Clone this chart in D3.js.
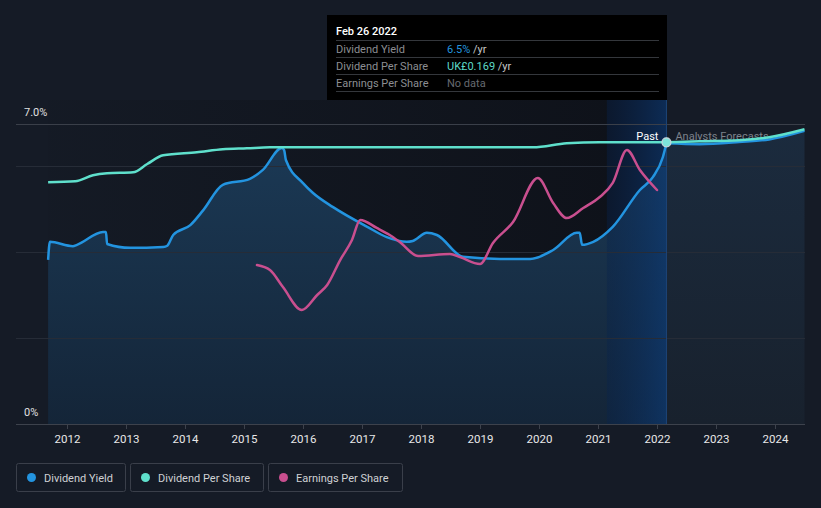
<!DOCTYPE html>
<html>
<head>
<meta charset="utf-8">
<script src="https://cdn.jsdelivr.net/npm/d3@7"></script>
<style>
  html, body { margin: 0; padding: 0; background: #151b26; }
  svg { display: block; font-family: Roboto, "Noto Sans", sans-serif; }
</style>
</head>
<body>
<svg id="chart" width="821" height="508"></svg>
<script>
// ---------- DATA ----------
const yearTicks = [2012, 2013, 2014, 2015, 2016, 2017, 2018, 2019, 2020, 2021, 2022, 2023, 2024];
const yTickLabels = [{v: 7, label: "7.0%"}, {v: 0, label: "0%"}];
const gridValues = [2, 4, 6, 7];

// Dividend Yield (% per year), [decimal year, value]
const dividendYield = [
  [2011.68, 3.83], [2011.71, 4.25], [2012.10, 4.15], [2012.17, 4.18], [2012.61, 4.48],
  [2012.66, 4.48], [2012.68, 4.20], [2013.07, 4.11], [2013.63, 4.13], [2013.70, 4.16],
  [2013.80, 4.41], [2014.09, 4.64], [2014.31, 4.99], [2014.64, 5.58], [2015.10, 5.72],
  [2015.32, 5.93], [2015.64, 6.44], [2015.68, 6.39], [2015.71, 6.16], [2016.00, 5.62],
  [2016.17, 5.39], [2016.51, 5.06], [2017.09, 4.60], [2017.42, 4.36], [2017.76, 4.25],
  [2017.86, 4.27], [2018.10, 4.46], [2018.27, 4.41], [2018.71, 3.90], [2019.34, 3.85],
  [2019.85, 3.85], [2020.24, 4.06], [2020.64, 4.46], [2020.69, 4.46], [2020.73, 4.18],
  [2020.92, 4.25], [2021.25, 4.60], [2021.71, 5.46], [2021.93, 5.76], [2022.10, 6.23],
  [2022.16, 6.55]
];
const dividendYieldForecast = [
  [2022.16, 6.55], [2022.72, 6.53], [2023.39, 6.58], [2023.90, 6.64], [2024.50, 6.84]
];

// Dividend Per Share (UK£ per year)
const dividendPerShare = [
  [2011.68, 0.1450], [2012.14, 0.1456], [2012.44, 0.1492], [2012.68, 0.1504], [2013.12, 0.1510],
  [2013.36, 0.1560], [2013.63, 0.1612], [2014.20, 0.1630], [2014.64, 0.1648], [2015.05, 0.1654],
  [2015.44, 0.1660], [2019.90, 0.1660], [2020.47, 0.1684], [2021.03, 0.1690], [2022.16, 0.1690]
];
const dividendPerShareForecast = [
  [2022.16, 0.1690], [2022.72, 0.1696], [2023.39, 0.1702], [2023.90, 0.1720], [2024.50, 0.1768]
];

// Earnings Per Share (UK£)
const earningsPerShare = [
  [2015.22, 0.1855], [2015.44, 0.1797], [2015.66, 0.1598], [2015.98, 0.1330], [2016.24, 0.1505],
  [2016.41, 0.1622], [2016.63, 0.1913], [2016.83, 0.2147], [2016.97, 0.2380], [2017.25, 0.2287],
  [2017.47, 0.2205], [2017.64, 0.2123], [2017.95, 0.1960], [2018.49, 0.1983], [2018.66, 0.1948],
  [2019.00, 0.1867], [2019.22, 0.2112], [2019.56, 0.2357], [2019.98, 0.2870], [2020.24, 0.2578],
  [2020.47, 0.2403], [2020.75, 0.2520], [2021.03, 0.2648], [2021.25, 0.2812], [2021.49, 0.3197],
  [2021.71, 0.2963], [2022.00, 0.2730]
];

const dataStart = 2011.68, dataEnd = 2024.50;
const highlightStart = 2021.15, todayYear = 2022.16;

const tooltipTitle = "Feb 26 2022";
const tooltipRows = [
  {label: "Dividend Yield", value: "6.5%", unit: " /yr", color: "#2394df"},
  {label: "Dividend Per Share", value: "UK£0.169", unit: " /yr", color: "#5ed9c8"},
  {label: "Earnings Per Share", value: "No data", unit: "", color: "#666a70"}
];
const legendItems = [
  {label: "Dividend Yield", color: "#2394e0"},
  {label: "Dividend Per Share", color: "#5fe0cc"},
  {label: "Earnings Per Share", color: "#c94f8f"}
];

// ---------- CHART ----------
const svg = d3.select("#chart");
const C = {dy: "#2394e0", dps: "#5fe0cc", eps: "#c94f8f"};
const plotTop = 100, yTop = 124, yBot = 424, plotLeft = 16, plotRight = 805;

const x = d3.scaleLinear().domain([2012, 2024]).range([67, 775]);
const yDY = d3.scaleLinear().domain([0, 7]).range([yBot, yTop]);
const yDPS = d3.scaleLinear().domain([0, 0.18]).range([yBot, yTop]);
const yEPS = d3.scaleLinear().domain([0, 0.35]).range([yBot, yTop]);

const defs = svg.append("defs");
const pastGrad = defs.append("linearGradient").attr("id", "pastGrad")
  .attr("gradientUnits", "userSpaceOnUse")
  .attr("x1", x(dataStart)).attr("x2", x(highlightStart)).attr("y1", 0).attr("y2", 0);
pastGrad.append("stop").attr("offset", 0).attr("stop-color", "#0a0c12").attr("stop-opacity", 0.05);
pastGrad.append("stop").attr("offset", 1).attr("stop-color", "#0a0c12").attr("stop-opacity", 0.6);

const bandGrad = defs.append("linearGradient").attr("id", "bandGrad")
  .attr("gradientUnits", "userSpaceOnUse")
  .attr("x1", x(highlightStart)).attr("x2", x(todayYear)).attr("y1", 0).attr("y2", 0);
bandGrad.append("stop").attr("offset", 0).attr("stop-color", "#08234b").attr("stop-opacity", 0.4);
bandGrad.append("stop").attr("offset", 1).attr("stop-color", "#0c3a75").attr("stop-opacity", 0.65);

const areaGrad = defs.append("linearGradient").attr("id", "areaGrad")
  .attr("gradientUnits", "userSpaceOnUse")
  .attr("x1", 0).attr("x2", 0).attr("y1", 140).attr("y2", yBot);
areaGrad.append("stop").attr("offset", 0).attr("stop-color", "#1b3955");
areaGrad.append("stop").attr("offset", 1).attr("stop-color", "#142538");

const fcGrad = defs.append("linearGradient").attr("id", "fcGrad")
  .attr("gradientUnits", "userSpaceOnUse")
  .attr("x1", 0).attr("x2", 0).attr("y1", 130).attr("y2", yBot);
fcGrad.append("stop").attr("offset", 0).attr("stop-color", "#1b2b3e");
fcGrad.append("stop").attr("offset", 1).attr("stop-color", "#18212d");

// past background darkening
svg.append("rect")
  .attr("x", x(dataStart)).attr("y", plotTop)
  .attr("width", x(highlightStart) - x(dataStart)).attr("height", yBot - plotTop)
  .attr("fill", "url(#pastGrad)");
svg.append("rect")
  .attr("x", x(highlightStart)).attr("y", plotTop)
  .attr("width", x(todayYear) - x(highlightStart)).attr("height", yBot - plotTop)
  .attr("fill", "#0a0c12").attr("opacity", 0.6);

const curve = d3.curveMonotoneX;

// dividend yield area
svg.append("path").datum(dividendYield)
  .attr("d", d3.area().curve(curve).x(d => x(d[0])).y0(yBot).y1(d => yDY(d[1])))
  .attr("fill", "url(#areaGrad)");

// forecast area
svg.append("path").datum(dividendPerShareForecast)
  .attr("d", d3.area().curve(curve).x(d => x(d[0])).y0(yBot).y1(d => yDPS(d[1])))
  .attr("fill", "url(#fcGrad)");

// highlight band (last 12 months)
svg.append("rect")
  .attr("x", x(highlightStart)).attr("y", plotTop)
  .attr("width", x(todayYear) - x(highlightStart)).attr("height", yBot - plotTop)
  .attr("fill", "url(#bandGrad)");

// gridlines
svg.append("g").selectAll("line").data(gridValues).join("line")
  .attr("x1", plotLeft).attr("x2", plotRight)
  .attr("y1", d => yDY(d)).attr("y2", d => yDY(d))
  .attr("stroke", d => d === 7 ? "#3a3f49" : "#262c37")
  .attr("stroke-width", 1).attr("shape-rendering", "crispEdges");

// today line
svg.append("line")
  .attr("x1", x(todayYear)).attr("x2", x(todayYear)).attr("y1", plotTop).attr("y2", yBot)
  .attr("stroke", "#1d4577").attr("stroke-width", 1);

// x axis
const xAxis = d3.axisBottom(x).tickValues(yearTicks).tickFormat(d3.format("d")).tickSize(5).tickPadding(6);
const gx = svg.append("g").attr("transform", `translate(0,${yBot})`).call(xAxis);
gx.select(".domain").remove();
gx.selectAll(".tick line").attr("stroke", "#3d424c");
gx.selectAll(".tick text").attr("fill", "#e8e8e8").attr("font-size", 11.5).attr("font-family", "Roboto");
svg.append("line").attr("x1", plotLeft).attr("x2", plotRight).attr("y1", yBot + 0.5).attr("y2", yBot + 0.5)
  .attr("stroke", "#3d424c").attr("stroke-width", 1);

// y labels
svg.append("g").selectAll("text").data(yTickLabels).join("text")
  .attr("x", 24).attr("y", d => yDY(d.v) - 8)
  .attr("fill", "#e0e0e0").attr("font-size", 11).text(d => d.label);

const line = (ys) => d3.line().curve(curve).x(d => x(d[0])).y(d => ys(d[1]));

// lines
svg.append("path").datum(dividendYield).attr("d", line(yDY))
  .attr("fill", "none").attr("stroke", C.dy).attr("stroke-width", 2.5).attr("stroke-linejoin", "round");
svg.append("path").datum(earningsPerShare).attr("d", line(yEPS))
  .attr("fill", "none").attr("stroke", C.eps).attr("stroke-width", 2.5).attr("stroke-linecap", "round");
svg.append("path").datum(dividendPerShare).attr("d", line(yDPS))
  .attr("fill", "none").attr("stroke", C.dps).attr("stroke-width", 2.5);

// past / forecast labels
svg.append("text").attr("x", x(todayYear) - 8).attr("y", 140)
  .attr("text-anchor", "end").attr("fill", "#ffffff").attr("font-size", 11).text("Past");
svg.append("text").attr("x", x(todayYear) + 9).attr("y", 140)
  .attr("fill", "#7d828b").attr("font-size", 11).text("Analysts Forecasts");

svg.append("path").datum(dividendYieldForecast).attr("d", line(yDY))
  .attr("fill", "none").attr("stroke", C.dy).attr("stroke-width", 2.5);
svg.append("path").datum(dividendPerShareForecast).attr("d", line(yDPS))
  .attr("fill", "none").attr("stroke", C.dps).attr("stroke-width", 2.5);

// marker
svg.append("circle").attr("cx", x(todayYear)).attr("cy", yDPS(dividendPerShare[dividendPerShare.length - 1][1]))
  .attr("r", 4.5).attr("fill", "#7de3da").attr("stroke", "#c9d6dc").attr("stroke-width", 1.2);

// tooltip
const tt = svg.append("g");
tt.append("rect").attr("x", 327).attr("y", 15).attr("width", 340).attr("height", 85).attr("fill", "#000000");
tt.append("text").attr("x", 336).attr("y", 35).attr("fill", "#ffffff").attr("font-size", 11)
  .attr("font-weight", 500).text(tooltipTitle);
tooltipRows.forEach((r, i) => {
  const base = 40.5 + i * 17;
  tt.append("line").attr("x1", 336).attr("x2", 659).attr("y1", base).attr("y2", base)
    .attr("stroke", "#34373c").attr("stroke-width", 1);
  tt.append("text").attr("x", 336).attr("y", base + 12).attr("fill", "#8c8e92").attr("font-size", 11).text(r.label);
  const t = tt.append("text").attr("x", 447).attr("y", base + 12).attr("font-size", 11);
  t.append("tspan").attr("fill", r.color).text(r.value);
  t.append("tspan").attr("fill", "#c8c8c8").text(r.unit);
});
tt.append("line").attr("x1", 336).attr("x2", 659).attr("y1", 91.5).attr("y2", 91.5)
  .attr("stroke", "#34373c").attr("stroke-width", 1);

// legend
const legendX = [16.5, 130.5, 268.5];
const legendW = [109, 133, 134];
const lg = svg.append("g");
legendItems.forEach((d, i) => {
  const g = lg.append("g").attr("transform", `translate(${legendX[i]},463.5)`);
  g.append("rect").attr("width", legendW[i]).attr("height", 28).attr("rx", 2)
    .attr("fill", "none").attr("stroke", "#3a3f4a");
  g.append("circle").attr("cx", 15).attr("cy", 14).attr("r", 4.5).attr("fill", d.color);
  g.append("text").attr("x", 27.5).attr("y", 18).attr("fill", "#cfd1d4").attr("font-size", 11).text(d.label);
});
</script>
</body>
</html>
